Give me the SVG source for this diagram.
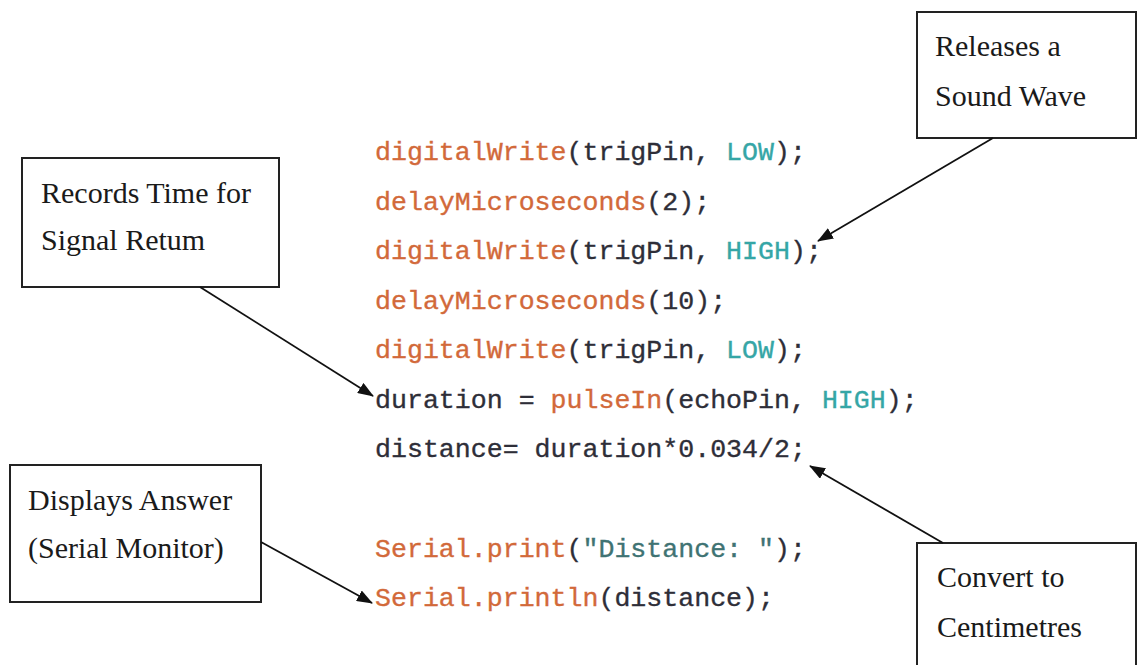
<svg xmlns="http://www.w3.org/2000/svg" width="1137" height="665" viewBox="0 0 1137 665">
  <defs>
    <marker id="arrow" viewBox="0 0 16 12" refX="15" refY="6" markerWidth="16" markerHeight="12" markerUnits="userSpaceOnUse" orient="auto">
      <path d="M0,0 L16,6 L0,12 Z" fill="#111"/>
    </marker>
    <style>
      .box { fill: #fff; stroke: #222; stroke-width: 2; }
      .label { font-family: "Liberation Serif", "Times New Roman", serif; font-size: 30px; fill: #1a1a1a; }
      .code { font-family: "Liberation Mono", "Courier New", monospace; font-size: 26.6px; fill: #2e2e38; stroke: #2e2e38; stroke-width: 0.35; }
      .fn { fill: #d2693a; stroke: #d2693a; }
      .kw { fill: #35a6a6; stroke: #35a6a6; }
      .str { fill: #3f7373; stroke: #3f7373; }
      .conn { stroke: #111; stroke-width: 1.8; fill: none; marker-end: url(#arrow); }
    </style>
  </defs>
  <rect width="1137" height="665" fill="#fff"/>

  <!-- sketch code -->
  <g id="code" class="code" xml:space="preserve">
    <text x="375" y="160"><tspan class="fn">digitalWrite</tspan>(trigPin, <tspan class="kw">LOW</tspan>);</text>
    <text x="375" y="209.5"><tspan class="fn">delayMicroseconds</tspan>(2);</text>
    <text x="375" y="259"><tspan class="fn">digitalWrite</tspan>(trigPin, <tspan class="kw">HIGH</tspan>);</text>
    <text x="375" y="308.5"><tspan class="fn">delayMicroseconds</tspan>(10);</text>
    <text x="375" y="358"><tspan class="fn">digitalWrite</tspan>(trigPin, <tspan class="kw">LOW</tspan>);</text>
    <text x="375" y="407.5">duration = <tspan class="fn">pulseIn</tspan>(echoPin, <tspan class="kw">HIGH</tspan>);</text>
    <text x="375" y="457">distance= duration*0.034/2;</text>
    <text x="375" y="556.5"><tspan class="fn">Serial.print</tspan>(<tspan class="str">"Distance: "</tspan>);</text>
    <text x="375" y="606"><tspan class="fn">Serial.println</tspan>(distance);</text>
  </g>

  <!-- callout boxes -->
  <g id="releases">
    <rect class="box" x="917" y="12" width="219" height="126"/>
    <text class="label" x="935" y="56">Releases a</text>
    <text class="label" x="935" y="106">Sound Wave</text>
  </g>
  <g id="records">
    <rect class="box" x="22" y="158" width="257" height="129"/>
    <text class="label" x="41" y="203">Records Time for</text>
    <text class="label" x="41" y="250">Signal Retum</text>
  </g>
  <g id="displays">
    <rect class="box" x="10" y="465" width="251" height="137"/>
    <text class="label" x="28" y="510">Displays Answer</text>
    <text class="label" x="28" y="558">(Serial Monitor)</text>
  </g>
  <g id="convert">
    <rect class="box" x="917" y="543" width="219" height="140"/>
    <text class="label" x="937" y="587">Convert to</text>
    <text class="label" x="937" y="637">Centimetres</text>
  </g>

  <!-- connectors -->
  <g id="connectors">
    <line class="conn" x1="993" y1="138" x2="818" y2="241"/>
    <line class="conn" x1="200" y1="287" x2="373" y2="396"/>
    <line class="conn" x1="261" y1="542" x2="372" y2="603"/>
    <line class="conn" x1="943" y1="543" x2="810" y2="466"/>
  </g>
</svg>
